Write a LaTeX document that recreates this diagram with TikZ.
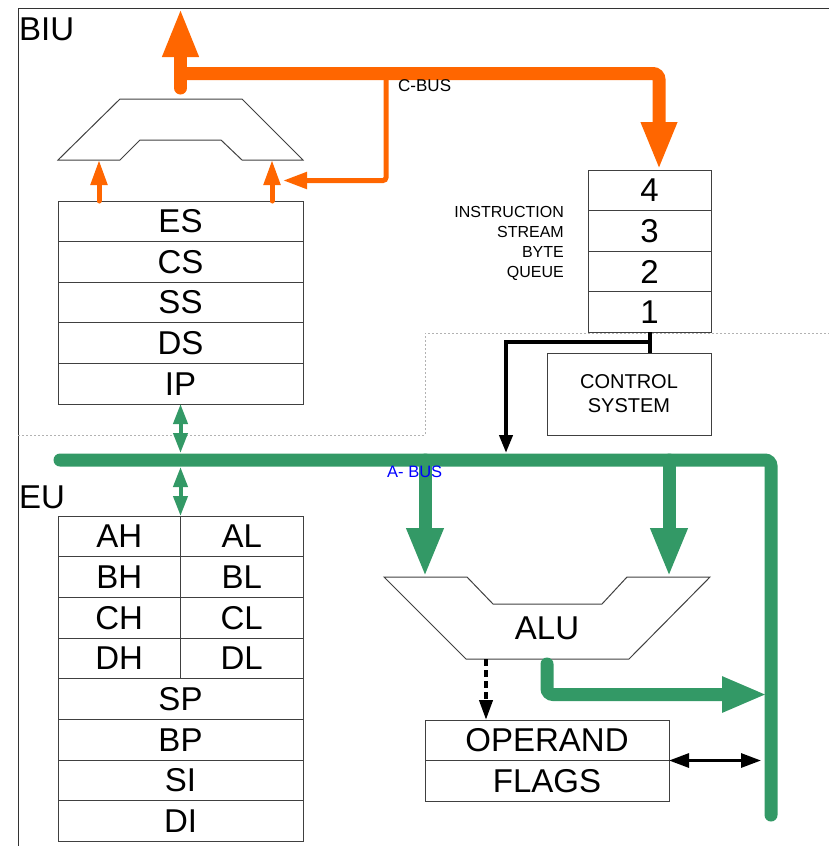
\documentclass[tikz,border=0pt]{standalone}
\usepackage{fontspec}
\setmainfont{Liberation Sans}
\usetikzlibrary{arrows.meta, positioning}
\definecolor{cbusc}{RGB}{255,102,0}
\definecolor{abusc}{RGB}{51,153,102}

\begin{document}
\begin{tikzpicture}[x=1pt, y=-1pt,
    big/.style={font=\fontsize{33}{33}\selectfont},
    reg/.style={draw=black!75, line width=1pt, rectangle, big, minimum width=245pt, minimum height=40.6pt, inner sep=0pt, outer sep=0pt},
    half/.style={reg, minimum width=122.5pt, minimum height=40.7pt},
    gen/.style={reg, minimum height=40.7pt},
    cell/.style={reg, minimum width=123pt},
    cbus/.style={cbusc, line width=13pt, line cap=round},
    cthin/.style={cbusc, line width=5pt},
    abus/.style={abusc, line width=13pt, line cap=round},
    athin/.style={abusc, line width=4pt},
    ln/.style={black, line width=4pt},
    lbl/.style={font=\fontsize{17}{17}\selectfont, inner sep=0pt, anchor=base west}]
    \useasboundingbox (0,0) rectangle (829,846);

    \draw[black!80, line width=1pt] (18,846) -- (18,8) -- (829,8);
    \draw[gray!60, dash pattern=on 2pt off 2pt, line width=0.8pt] (18,435) -- (425,435) -- (425,333) -- (829,333);
    \node[big, inner sep=0pt, anchor=base west] (biu) at (19,40) {BIU};
    \node[big, inner sep=0pt, anchor=base west] (eu) at (19,508) {EU};

    \node[reg] (es) at (180.5,221.3) {ES};
    \node[reg, below=0pt of es] (cs) {CS};
    \node[reg, below=0pt of cs] (ss) {SS};
    \node[reg, below=0pt of ss] (ds) {DS};
    \node[reg, below=0pt of ds] (ip) {IP};

    \node[half] (ah) at (119.25,536.35) {AH};
    \node[half, right=0pt of ah] (al) {AL};
    \node[half, below=0pt of ah] (bh) {BH};
    \node[half, below=0pt of al] (bl) {BL};
    \node[half, below=0pt of bh] (ch) {CH};
    \node[half, below=0pt of bl] (cl) {CL};
    \node[half, below=0pt of ch] (dh) {DH};
    \node[half, below=0pt of cl] (dl) {DL};
    \node[gen, below=0pt of dh.south east] (sp) {SP};
    \node[gen, below=0pt of sp] (bp) {BP};
    \node[gen, below=0pt of bp] (si) {SI};
    \node[gen, below=0pt of si] (di) {DI};

    \node[cell] (q4) at (649.5,190.3) {4};
    \node[cell, below=0pt of q4] (q3) {3};
    \node[cell, below=0pt of q3] (q2) {2};
    \node[cell, below=0pt of q2] (q1) {1};
    \node[font=\fontsize{16}{20}\selectfont, align=right, anchor=north east, inner sep=0pt] (isbq) at (564,206) {INSTRUCTION\\STREAM\\BYTE\\QUEUE};

    \node[draw=black!75, line width=1pt, minimum width=164pt, minimum height=82pt, align=center, outer sep=0pt, font=\fontsize{20}{24}\selectfont] (ctrl) at (629,394) {CONTROL\\SYSTEM};

    \node[reg, minimum width=244pt, minimum height=40.5pt] (opnd) at (547,740.25) {OPERAND};
    \node[reg, minimum width=244pt, minimum height=40.5pt, below=0pt of opnd] (flags) {FLAGS};

    \draw[black!75, line width=1pt] (58,160) -- (120,99) -- (242,99) -- (303,160) -- (242,160) -- (221,140) -- (140,140) -- (120,160) -- cycle;
    \draw[black!75, line width=1pt] (384,577) -- (467,577) -- (493,604) -- (602,604) -- (627,577) -- (710,577) -- (629,659) -- (466,659) -- cycle;
    \node[big] (alu) at (547,628) {ALU};

    \coordinate (cout) at (180.5,8);
    \coordinate (cstub) at (180.5,88);
    \coordinate (cj) at (180.5,73.5);
    \coordinate (ctap) at (386,73.5);
    \coordinate (adin) at (283,180.5);
    \coordinate (adl) at (99,160);
    \coordinate (adr) at (272,160);

    \draw[cbus, -{Triangle[length=49pt,width=33pt]}] (cstub) -- (cout);
    \draw[cbus, rounded corners=6pt, -{Triangle[length=48pt,width=33pt]}] (cj) -| ([xshift=9.5pt]q4.north);
    \draw[cthin, rounded corners=3pt, -{Triangle[length=24pt,width=16pt]}] (ctap) |- (adin);
    \draw[cthin, line cap=round, -{Triangle[length=25pt,width=16pt]}] (es.north -| adl) -- (adl);
    \draw[cthin, line cap=round, -{Triangle[length=25pt,width=16pt]}] (es.north -| adr) -- (adr);
    \node[lbl] (cbuslbl) at (398,91) {C-BUS};

    \coordinate (abl) at (60,460);
    \coordinate (abr) at (771,460);
    \coordinate (abb) at (771,815);
    \coordinate (alul) at (425,577);
    \coordinate (alur) at (669,577);
    \coordinate (aluout) at (547,664);
    \coordinate (resin) at (767,694.5);
    \coordinate (alud) at (486,659);
    \coordinate (busin) at (506,453);

    \draw[abus, rounded corners=6pt] (abl) -- (abr) -- (abb);
    \draw[athin, {Triangle[length=20pt,width=14pt]}-{Triangle[length=20pt,width=14pt]}] (ip.south) -- ([yshift=7pt]ip.south |- abl);
    \draw[athin, {Triangle[length=20pt,width=14pt]}-{Triangle[length=20pt,width=14pt]}] ([yshift=-7pt]ip.south |- abl) -- (ah.north east);
    \draw[abus, -{Triangle[length=49pt,width=34pt]}] (alul |- abl) -- (alul);
    \draw[abus, -{Triangle[length=49pt,width=34pt]}] (alur |- abl) -- (alur);
    \draw[abus, rounded corners=6pt, -{Triangle[length=45pt,width=33pt]}] (aluout) |- (resin);
    \node[lbl, blue, font=\fontsize{16.5}{17}\selectfont] (abuslbl) at (387,477) {A- BUS};

    \draw[ln, dash pattern=on 7pt off 4pt, -{Triangle[length=20pt,width=13pt]}] (alud) -- (alud |- opnd.north);
    \draw[ln, line width=3pt, {Triangle[length=20pt,width=14pt]}-{Triangle[length=20pt,width=14pt]}] (flags.north east) -- ([xshift=-10pt]flags.north east -| abb);
    \draw[ln] (q1.south) -- (q1.south |- ctrl.north);
    \draw[ln, -{Triangle[length=18pt,width=13pt]}] ([yshift=-10pt]q1.south) -| (busin);
\end{tikzpicture}
\end{document}
